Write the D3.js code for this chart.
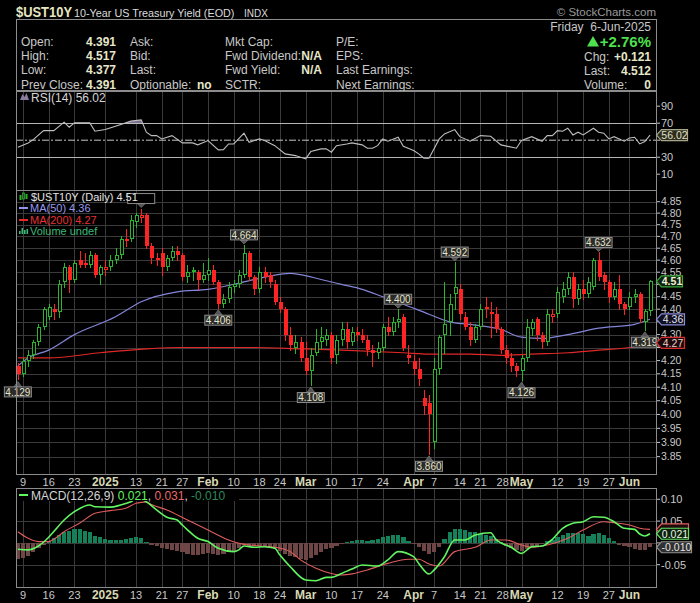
<!DOCTYPE html>
<html><head><meta charset="utf-8">
<script src="https://cdn.jsdelivr.net/npm/d3@7"></script>
<style>html,body{margin:0;padding:0;background:#000;}svg{display:block;}text{font-family:"Liberation Sans",Arial,sans-serif;}</style>
</head><body><svg id="c" width="700" height="603"></svg>
<script>
// ---------------- DATA ----------------
const dates = ["2024-12-06","2024-12-09","2024-12-10","2024-12-11","2024-12-12","2024-12-13","2024-12-16","2024-12-17","2024-12-18","2024-12-19","2024-12-20","2024-12-23","2024-12-24","2024-12-26","2024-12-27","2024-12-30","2024-12-31","2025-01-02","2025-01-03","2025-01-06","2025-01-07","2025-01-08","2025-01-10","2025-01-13","2025-01-14","2025-01-15","2025-01-16","2025-01-17","2025-01-21","2025-01-22","2025-01-23","2025-01-24","2025-01-27","2025-01-28","2025-01-29","2025-01-30","2025-01-31","2025-02-03","2025-02-04","2025-02-05","2025-02-06","2025-02-07","2025-02-10","2025-02-11","2025-02-12","2025-02-13","2025-02-14","2025-02-18","2025-02-19","2025-02-20","2025-02-21","2025-02-24","2025-02-25","2025-02-26","2025-02-27","2025-02-28","2025-03-03","2025-03-04","2025-03-05","2025-03-06","2025-03-07","2025-03-10","2025-03-11","2025-03-12","2025-03-13","2025-03-14","2025-03-17","2025-03-18","2025-03-19","2025-03-20","2025-03-21","2025-03-24","2025-03-25","2025-03-26","2025-03-27","2025-03-28","2025-03-31","2025-04-01","2025-04-02","2025-04-03","2025-04-04","2025-04-07","2025-04-08","2025-04-09","2025-04-10","2025-04-11","2025-04-14","2025-04-15","2025-04-16","2025-04-17","2025-04-21","2025-04-22","2025-04-23","2025-04-24","2025-04-25","2025-04-28","2025-04-29","2025-04-30","2025-05-01","2025-05-02","2025-05-05","2025-05-06","2025-05-07","2025-05-08","2025-05-09","2025-05-12","2025-05-13","2025-05-14","2025-05-15","2025-05-16","2025-05-19","2025-05-20","2025-05-21","2025-05-22","2025-05-23","2025-05-27","2025-05-28","2025-05-29","2025-05-30","2025-06-02","2025-06-03","2025-06-04","2025-06-05","2025-06-06"];

const opens = [4.18,4.15,4.20,4.22,4.27,4.33,4.37,4.40,4.39,4.51,4.57,4.52,4.60,4.59,4.58,4.62,4.54,4.56,4.57,4.60,4.62,4.68,4.69,4.76,4.78,4.79,4.66,4.60,4.63,4.57,4.61,4.64,4.62,4.53,4.55,4.55,4.52,4.54,4.56,4.51,4.42,4.44,4.49,4.50,4.54,4.63,4.53,4.48,4.55,4.54,4.50,4.43,4.40,4.30,4.25,4.27,4.21,4.16,4.23,4.27,4.28,4.30,4.22,4.28,4.32,4.27,4.31,4.30,4.28,4.24,4.23,4.25,4.33,4.31,4.35,4.37,4.22,4.20,4.17,4.06,4.04,3.90,4.17,4.30,4.35,4.46,4.48,4.37,4.33,4.28,4.33,4.41,4.39,4.38,4.32,4.24,4.21,4.18,4.16,4.21,4.32,4.36,4.30,4.27,4.37,4.38,4.45,4.48,4.53,4.44,4.48,4.46,4.49,4.60,4.54,4.51,4.45,4.48,4.42,4.41,4.45,4.46,4.35,4.391];
const highs = [4.19,4.21,4.24,4.28,4.34,4.41,4.42,4.42,4.52,4.59,4.58,4.60,4.64,4.63,4.64,4.63,4.58,4.60,4.62,4.65,4.70,4.73,4.79,4.80,4.82,4.80,4.67,4.63,4.65,4.62,4.66,4.66,4.63,4.58,4.57,4.56,4.59,4.61,4.58,4.52,4.46,4.51,4.52,4.56,4.664,4.64,4.54,4.57,4.57,4.55,4.52,4.45,4.41,4.33,4.30,4.29,4.27,4.25,4.32,4.33,4.32,4.31,4.30,4.35,4.35,4.33,4.33,4.32,4.30,4.26,4.27,4.34,4.37,4.37,4.400,4.38,4.26,4.22,4.21,4.09,4.07,4.21,4.30,4.51,4.46,4.592,4.50,4.39,4.35,4.34,4.42,4.45,4.43,4.41,4.33,4.26,4.23,4.19,4.22,4.36,4.36,4.37,4.31,4.40,4.40,4.49,4.51,4.55,4.55,4.50,4.52,4.53,4.61,4.632,4.55,4.52,4.51,4.54,4.43,4.47,4.48,4.47,4.40,4.517];
const lows = [4.129,4.14,4.18,4.21,4.26,4.32,4.36,4.36,4.37,4.49,4.47,4.51,4.57,4.57,4.57,4.53,4.50,4.54,4.56,4.59,4.61,4.66,4.68,4.74,4.76,4.65,4.59,4.58,4.54,4.56,4.60,4.60,4.52,4.51,4.52,4.48,4.51,4.52,4.50,4.406,4.41,4.43,4.47,4.49,4.53,4.52,4.46,4.47,4.51,4.49,4.42,4.39,4.28,4.24,4.23,4.20,4.15,4.108,4.22,4.25,4.26,4.19,4.19,4.26,4.25,4.26,4.28,4.27,4.22,4.18,4.21,4.24,4.30,4.30,4.33,4.24,4.19,4.15,4.11,4.00,3.860,3.88,4.15,4.23,4.30,4.40,4.36,4.32,4.26,4.27,4.32,4.37,4.29,4.31,4.23,4.19,4.16,4.14,4.126,4.20,4.30,4.28,4.25,4.26,4.35,4.37,4.43,4.46,4.41,4.42,4.44,4.45,4.48,4.52,4.48,4.43,4.44,4.40,4.38,4.40,4.43,4.35,4.319,4.377];
const closes = [4.15,4.20,4.22,4.27,4.33,4.40,4.41,4.39,4.50,4.57,4.52,4.59,4.58,4.58,4.62,4.54,4.57,4.57,4.60,4.62,4.69,4.69,4.77,4.79,4.79,4.66,4.61,4.61,4.57,4.61,4.64,4.62,4.53,4.55,4.56,4.52,4.54,4.56,4.51,4.42,4.44,4.49,4.50,4.54,4.63,4.53,4.48,4.55,4.53,4.51,4.43,4.40,4.30,4.26,4.27,4.21,4.16,4.22,4.27,4.29,4.30,4.21,4.28,4.32,4.27,4.31,4.30,4.28,4.24,4.23,4.25,4.33,4.31,4.35,4.36,4.25,4.21,4.17,4.13,4.03,4.00,4.17,4.29,4.34,4.42,4.49,4.38,4.33,4.28,4.33,4.40,4.40,4.38,4.32,4.24,4.21,4.18,4.16,4.21,4.33,4.35,4.30,4.27,4.38,4.38,4.47,4.48,4.53,4.44,4.48,4.46,4.51,4.60,4.53,4.51,4.45,4.48,4.42,4.40,4.45,4.46,4.36,4.391,4.512];

const ma50Dates = ["2024-12-06","2024-12-10","2024-12-16","2024-12-23","2025-01-06","2025-01-14","2025-01-24","2025-02-03","2025-02-12","2025-02-19","2025-02-26","2025-02-28","2025-03-06","2025-03-12","2025-03-18","2025-03-24","2025-03-28","2025-04-04","2025-04-10","2025-04-16","2025-04-25","2025-05-01","2025-05-07","2025-05-14","2025-05-22","2025-06-03","2025-06-06"];
const ma50Values = [4.18,4.21,4.24,4.30,4.37,4.43,4.47,4.48,4.51,4.53,4.545,4.54,4.52,4.50,4.48,4.45,4.42,4.38,4.35,4.34,4.32,4.29,4.285,4.30,4.325,4.34,4.36];
const ma200Dates = ["2024-12-06","2024-12-16","2024-12-31","2025-01-15","2025-01-27","2025-02-14","2025-02-28","2025-03-12","2025-03-28","2025-04-04","2025-04-16","2025-04-25","2025-05-05","2025-05-14","2025-05-22","2025-06-02","2025-06-06"];
const ma200Values = [4.21,4.21,4.23,4.245,4.25,4.25,4.245,4.24,4.23,4.225,4.225,4.22,4.225,4.23,4.24,4.25,4.265];

const rsiDates = ["2024-12-06","2024-12-10","2024-12-11","2024-12-13","2024-12-17","2024-12-19","2024-12-20","2024-12-23","2024-12-27","2024-12-30","2025-01-02","2025-01-06","2025-01-10","2025-01-14","2025-01-15","2025-01-16","2025-01-17","2025-01-21","2025-01-23","2025-01-27","2025-01-29","2025-01-30","2025-02-03","2025-02-05","2025-02-06","2025-02-07","2025-02-10","2025-02-12","2025-02-13","2025-02-18","2025-02-19","2025-02-21","2025-02-25","2025-02-27","2025-03-03","2025-03-04","2025-03-06","2025-03-07","2025-03-10","2025-03-11","2025-03-13","2025-03-14","2025-03-18","2025-03-19","2025-03-20","2025-03-21","2025-03-24","2025-03-25","2025-03-27","2025-03-28","2025-04-01","2025-04-02","2025-04-03","2025-04-04","2025-04-08","2025-04-09","2025-04-11","2025-04-14","2025-04-16","2025-04-21","2025-04-23","2025-04-25","2025-04-30","2025-05-01","2025-05-05","2025-05-07","2025-05-08","2025-05-09","2025-05-12","2025-05-13","2025-05-14","2025-05-15","2025-05-16","2025-05-19","2025-05-21","2025-05-22","2025-05-23","2025-05-27","2025-05-28","2025-05-30","2025-06-02","2025-06-03","2025-06-04","2025-06-05","2025-06-06"];
const rsiValues = [41.8,46.8,50.7,61.3,61.3,71.2,65.3,70.4,70.4,60.6,62.5,66.5,72.4,73.9,59.4,55.4,55.4,51.5,55.4,46.8,46.8,44.5,49.6,38.6,38.8,45.6,45.6,58.2,47.6,51.5,49.6,43.6,33.9,31.9,28.0,36.6,39.8,39.8,35.9,43.6,45.6,46.8,44.5,40.6,40.6,43.6,51.5,48.8,53.5,42.9,37.8,33.9,28.8,28.8,51.5,57.4,62.5,54.2,48.8,55.4,54.6,44.5,40.6,49.6,54.2,48.8,55.4,55.4,61.3,60.6,64.1,56.2,59.4,56.2,64.1,59.4,58.2,51.5,54.2,48.8,52.7,53.5,45.6,48.4,56.02];

const macdDates = ["2024-12-06","2024-12-10","2024-12-12","2024-12-16","2024-12-17","2024-12-19","2024-12-23","2024-12-27","2024-12-30","2025-01-03","2025-01-07","2025-01-10","2025-01-13","2025-01-14","2025-01-15","2025-01-17","2025-01-22","2025-01-24","2025-01-27","2025-01-28","2025-01-30","2025-02-03","2025-02-05","2025-02-10","2025-02-11","2025-02-12","2025-02-14","2025-02-19","2025-02-21","2025-02-24","2025-02-26","2025-03-03","2025-03-05","2025-03-07","2025-03-10","2025-03-12","2025-03-14","2025-03-18","2025-03-21","2025-03-25","2025-03-27","2025-04-01","2025-04-02","2025-04-04","2025-04-07","2025-04-09","2025-04-11","2025-04-15","2025-04-17","2025-04-23","2025-04-24","2025-04-29","2025-05-01","2025-05-05","2025-05-07","2025-05-09","2025-05-13","2025-05-15","2025-05-19","2025-05-21","2025-05-23","2025-05-28","2025-05-30","2025-06-03","2025-06-04","2025-06-05","2025-06-06"];
const macdValues = [-0.0147,-0.016,-0.007,0.013,0.026,0.0525,0.0716,0.087,0.083,0.082,0.087,0.0945,0.100,0.100,0.094,0.0755,0.0587,0.0525,0.041,0.030,0.0106,0.003,-0.0124,-0.020,-0.016,-0.007,-0.010,-0.0087,-0.0124,-0.028,-0.0546,-0.085,-0.0867,-0.079,-0.079,-0.070,-0.060,-0.0507,-0.053,-0.039,-0.020,-0.0316,-0.047,-0.0713,-0.062,-0.0316,0.0067,0.0067,0.018,0.0234,0.0083,-0.010,-0.024,-0.0087,-0.007,0.0083,0.0335,0.045,0.0486,0.060,0.0587,0.0486,0.0335,0.031,0.0204,0.0158,0.021];
const signalDates = ["2024-12-06","2024-12-10","2024-12-12","2024-12-16","2024-12-17","2024-12-19","2024-12-24","2024-12-30","2025-01-03","2025-01-08","2025-01-13","2025-01-14","2025-01-15","2025-01-16","2025-01-22","2025-01-28","2025-02-03","2025-02-07","2025-02-11","2025-02-18","2025-02-21","2025-02-26","2025-02-28","2025-03-05","2025-03-10","2025-03-12","2025-03-14","2025-03-19","2025-03-25","2025-03-31","2025-04-02","2025-04-04","2025-04-08","2025-04-11","2025-04-17","2025-04-23","2025-04-28","2025-05-01","2025-05-05","2025-05-08","2025-05-14","2025-05-19","2025-05-23","2025-05-28","2025-06-02","2025-06-04","2025-06-06"];
const signalValues = [0.0257,0.0106,0.003,0.003,0.0083,0.0257,0.045,0.068,0.074,0.0794,0.0908,0.093,0.094,0.088,0.0755,0.0525,0.0296,0.0067,-0.001,-0.007,-0.010,-0.020,-0.039,-0.058,-0.070,-0.0736,-0.071,-0.062,-0.047,-0.0376,-0.0376,-0.0484,-0.053,-0.020,-0.010,0.0067,0.0067,-0.0048,-0.010,-0.0048,0.0106,0.0296,0.0486,0.0463,0.041,0.0335,0.031];
const histValues = [-0.037,-0.034,-0.030,-0.022,-0.012,-0.004,0.004,0.012,0.018,0.024,0.028,0.031,0.031,0.028,0.024,0.016,0.013,0.010,0.006,0.006,0.007,0.009,0.011,0.014,0.012,0.002,-0.004,-0.008,-0.012,-0.014,-0.016,-0.018,-0.022,-0.026,-0.028,-0.028,-0.026,-0.024,-0.026,-0.028,-0.026,-0.022,-0.018,-0.012,-0.005,-0.006,-0.008,-0.006,-0.008,-0.010,-0.012,-0.018,-0.026,-0.031,-0.033,-0.036,-0.039,-0.035,-0.028,-0.020,-0.014,-0.012,-0.008,-0.003,0.002,0.005,0.006,0.006,0.005,0.006,0.008,0.013,0.015,0.017,0.018,0.014,0.005,-0.002,-0.010,-0.018,-0.026,-0.020,-0.010,0.008,0.025,0.033,0.032,0.029,0.026,0.024,0.020,0.018,0.016,0.008,0.002,-0.006,-0.012,-0.016,-0.019,-0.013,-0.008,-0.006,-0.003,0.004,0.006,0.014,0.019,0.023,0.022,0.022,0.020,0.016,0.020,0.022,0.019,0.012,0.004,-0.004,-0.008,-0.010,-0.013,-0.016,-0.017,-0.010];

const markerDates = ["2024-12-06","2025-01-14","2025-02-05","2025-02-12","2025-03-04","2025-03-27","2025-04-04","2025-04-11","2025-05-01","2025-05-22","2025-06-05"];
const markerValues = [4.129,4.82,4.406,4.664,4.108,4.400,3.860,4.592,4.126,4.632,4.319];
const markerTypes = ["low","high","low","high","low","high","low","high","low","high","low"];

const tickDates = ["2024-12-09","2024-12-16","2024-12-23","2025-01-02","2025-01-13","2025-01-21","2025-01-27","2025-02-03","2025-02-10","2025-02-18","2025-02-24","2025-03-03","2025-03-10","2025-03-17","2025-03-24","2025-04-01","2025-04-07","2025-04-14","2025-04-21","2025-04-28","2025-05-01","2025-05-12","2025-05-19","2025-05-27","2025-06-02"];
const tickLabels = ["9","16","23","2025","13","21","27","Feb","10","18","24","Mar","10","17","24","Apr","7","14","21","28","May","12","19","27","Jun"];
const priceTicks = [4.85,4.80,4.75,4.70,4.65,4.60,4.55,4.50,4.45,4.40,4.35,4.30,4.25,4.20,4.15,4.10,4.05,4.00,3.95,3.90,3.85];
const rsiTicks = [90,70,50,30,10];
const macdTicks = [0.10,0.05,0.00,-0.05];

const headerLabels1 = ["Open:","High:","Low:","Prev Close:"];
const headerValues1 = ["4.391","4.517","4.377","4.391"];
const headerLabels2 = ["Ask:","Bid:","Last:","Optionable:"];
const headerLabels3 = ["Mkt Cap:","Fwd Dividend:","Fwd Yield:","SCTR:"];
const headerLabels4 = ["P/E:","EPS:","Last Earnings:","Next Earnings:"];

// ---------------- DRAW ----------------
const svg = d3.select("#c");
const L = 16, R = 656;
const RSI = [91,190], MAIN = [190,474], MACD = [488,587];
const GRID = "#3a3a3a", BORDER = "#8c8c8c", AX = "#c8c8c8";
const UP = "#2db42d", DN = "#ff2424";

const x = d3.scaleLinear().domain([0, dates.length - 1]).range([17.86, 650]);
const xd = d => x(dates.indexOf(d));
const y = d3.scaleLog().domain([3.790, 4.9017]).range([MAIN[1], MAIN[0]]);
const yr = d3.scaleLinear().domain([0,100]).range([182.7, 97.7]);
const ym = d3.scaleLinear().domain([-0.05,0.10]).range([564.7, 499.3]);

const priceTags = [4.512, 4.36, 4.268];
const rsiTags = [56.02];
const macdTags = [0.031, 0.021, -0.010];
const covered = (yy, list, sc) => list.some(v => Math.abs(sc(v) - yy) < 7.5);

const defs = svg.append("defs");
function clip(id, x0, y0, x1, y1){
  defs.append("clipPath").attr("id", id).append("rect").attr("x",x0).attr("y",y0).attr("width",x1-x0).attr("height",y1-y0);
}
clip("cRsi", L, RSI[0], R, RSI[1]);
clip("cMain", L, MAIN[0], R, MAIN[1]);
clip("cMacd", L, MACD[0], R, MACD[1]);
clip("cOver", L, RSI[0], R, yr(70));
clip("cUnder", L, yr(30), R, RSI[1]);

function T(g, x0, y0, s, o = {}){
  const t = g.append("text").attr("x", x0).attr("y", y0).text(s)
    .attr("font-size", o.size || 12).attr("fill", o.fill || AX)
    .attr("text-anchor", o.anchor || "start");
  if (o.bold) t.attr("font-weight", "bold");
  return t;
}

// ---- header ----
const hdr = svg.append("g");
T(hdr, 16, 17, "$UST10Y", {size:14, bold:true, fill:"#e6e6c0"}).attr("textLength",56).attr("lengthAdjust","spacingAndGlyphs");
T(hdr, 74, 17, "10-Year US Treasury Yield (EOD)", {size:10.8, fill:"#dcdcdc"});
T(hdr, 244, 17, "INDX", {size:10, fill:"#dcdcdc"});
T(hdr, 656, 16, "\u00A9 StockCharts.com", {size:11.5, fill:"#9a9a9a", anchor:"end"});
hdr.append("rect").attr("x",16.5).attr("y",19.5).attr("width",640).attr("height",71).attr("fill","none").attr("stroke",BORDER);
const rowsY = [46, 60, 74, 88.5];
rowsY.forEach((yy,i)=>{
  T(hdr, 21, yy, headerLabels1[i]);
  T(hdr, 116, yy, headerValues1[i], {bold:true, anchor:"end", fill:"#e6e6c8"});
  T(hdr, 130, yy, headerLabels2[i]);
  T(hdr, 225, yy, headerLabels3[i]);
  T(hdr, 336, yy, headerLabels4[i]);
});
T(hdr, 197, rowsY[3], "no", {bold:true, fill:"#e6e6c8"});
T(hdr, 322, rowsY[1], "N/A", {bold:true, anchor:"end", fill:"#e6e6c8"});
T(hdr, 322, rowsY[2], "N/A", {bold:true, anchor:"end", fill:"#e6e6c8"});
T(hdr, 651, 31, "Friday  6-Jun-2025", {anchor:"end"}).style("white-space","pre");
hdr.append("path").attr("d","M587,46.5L593,36L599,46.5Z").attr("fill","#4ee04e");
T(hdr, 651, 47, "+2.76%", {size:15, bold:true, anchor:"end", fill:"#4ee04e"});
T(hdr, 584, 60.5, "Chg:");
T(hdr, 651, 60.5, "+0.121", {bold:true, anchor:"end", fill:"#e6e6c8"});
T(hdr, 584, 74.5, "Last:");
T(hdr, 651, 74.5, "4.512", {bold:true, anchor:"end", fill:"#e6e6c8"});
T(hdr, 584, 88.5, "Volume:");
T(hdr, 651, 88.5, "0", {bold:true, anchor:"end", fill:"#e6e6c8"});

// ---- vertical grid ----
const vg = svg.append("g").attr("shape-rendering","crispEdges");
[RSI, MAIN, MACD].forEach(p=>{
  tickDates.forEach(d=>{
    const xx = Math.round(xd(d)) + 0.5;
    vg.append("line").attr("x1",xx).attr("x2",xx).attr("y1",p[0]).attr("y2",p[1]).attr("stroke",GRID);
  });
});

// ---- RSI panel ----
const rg = svg.append("g");
[70,30].forEach(v=> rg.append("line").attr("x1",L).attr("x2",R).attr("y1",yr(v)).attr("y2",yr(v)).attr("stroke","#c4c4c4").attr("shape-rendering","crispEdges"));
rg.append("line").attr("x1",L).attr("x2",R).attr("y1",yr(50)).attr("y2",yr(50)).attr("stroke","#c4c4c4").attr("stroke-dasharray","7,2,2,2");
const rsiPts = rsiDates.map((d,i)=>[xd(d), rsiValues[i]]);
rg.append("path").attr("clip-path","url(#cOver)")
  .attr("d", d3.area().x(p=>p[0]).y0(yr(70)).y1(p=>yr(p[1]))(rsiPts)).attr("fill","#7a6a8c");
rg.append("path").attr("clip-path","url(#cUnder)")
  .attr("d", d3.area().x(p=>p[0]).y0(yr(30)).y1(p=>yr(p[1]))(rsiPts)).attr("fill","#7a6a8c");
rg.append("path").attr("clip-path","url(#cRsi)")
  .attr("d", d3.line().x(p=>p[0]).y(p=>yr(p[1]))(rsiPts)).attr("fill","none").attr("stroke","#bdbdbd").attr("stroke-width",1.1);
rg.append("path").attr("d","M20,100L22.5,94L24.5,97L26.5,93L29,100Z").attr("fill","#8a7a9c");
T(rg, 31, 102, "RSI(14) 56.02", {size:12, fill:"#d4d4d4"});
rsiTicks.forEach(v=>{
  rg.append("line").attr("x1",R).attr("x2",R+4).attr("y1",yr(v)).attr("y2",yr(v)).attr("stroke",AX);
  if (!covered(yr(v), rsiTags, yr)) T(rg, 661, yr(v)+4, String(v), {size:11});
});

// ---- main panel ----
const mg = svg.append("g");
priceTicks.forEach(v=>{
  mg.append("line").attr("x1",L).attr("x2",R).attr("y1",Math.round(y(v))+0.5).attr("y2",Math.round(y(v))+0.5).attr("stroke",GRID);
});
const maLine = d3.line().curve(d3.curveMonotoneX).x(p=>p[0]).y(p=>y(p[1]));
mg.append("path").attr("clip-path","url(#cMain)")
  .attr("d", maLine(ma200Dates.map((d,i)=>[xd(d), ma200Values[i]]))).attr("fill","none").attr("stroke","#e02828").attr("stroke-width",1.2);
mg.append("path").attr("clip-path","url(#cMain)")
  .attr("d", maLine(ma50Dates.map((d,i)=>[xd(d), ma50Values[i]]))).attr("fill","none").attr("stroke","#8484d8").attr("stroke-width",1.2);

const cg = mg.append("g").attr("clip-path","url(#cMain)").attr("shape-rendering","crispEdges");
dates.forEach((d,i)=>{
  const o = opens[i], h = highs[i], l = lows[i], c = closes[i];
  const prev = i > 0 ? closes[i-1] : o;
  const col = c > prev ? UP : DN;
  const px = Math.round(x(i));
  cg.append("line").attr("x1",px+0.5).attr("x2",px+0.5).attr("y1",Math.round(y(h))).attr("y2",Math.round(y(l))+1).attr("stroke",col);
  const top = Math.round(y(Math.max(o,c))), bot = Math.round(y(Math.min(o,c)));
  if (c < o) {
    cg.append("rect").attr("x",px-1.5).attr("y",top).attr("width",4).attr("height",Math.max(bot-top,1)).attr("fill",col);
  } else {
    cg.append("rect").attr("x",px-1).attr("y",top+0.5).attr("width",3).attr("height",Math.max(bot-top-1,1)).attr("fill","#000").attr("stroke",col);
  }
});

markerDates.forEach((d,i)=>{
  const v = markerValues[i], cx = xd(d), yy = y(v);
  const s = v.toFixed(3), w = 27;
  let by, tri;
  if (markerTypes[i] === "high") {
    by = yy - 15;
    tri = `M${cx},${yy-1}L${cx-4},${yy-5}L${cx+4},${yy-5}Z`;
  } else {
    by = yy + 7.5;
    tri = `M${cx},${yy+2}L${cx-4},${yy+7.5}L${cx+4},${yy+7.5}Z`;
  }
  const underLegend = by < 204 && cx < 170;
  mg.append("path").attr("d",tri).attr("fill","#555").attr("stroke","#888").attr("stroke-width",0.6);
  mg.append("rect").attr("x",cx-w/2).attr("y",by).attr("width",w).attr("height",10)
    .attr("fill", underLegend ? "#000" : "#2b2b2b").attr("stroke","#8c8c8c");
  if (!underLegend) T(mg, cx, by+8.7, s, {size:10, anchor:"middle", fill:"#e4e4c8"});
});

// legend
const lg = svg.append("g");
lg.append("rect").attr("x",19.5).attr("y",195).attr("width",2).attr("height",5).attr("fill",UP);
lg.append("rect").attr("x",22.5).attr("y",193).attr("width",2).attr("height",6).attr("fill","none").attr("stroke",UP).attr("stroke-width",0.8);
lg.append("rect").attr("x",25.5).attr("y",194).attr("width",2).attr("height",5).attr("fill",UP);
T(lg, 31, 201, "$UST10Y (Daily) 4.51", {size:11, fill:"#e4e4e4"});
lg.append("line").attr("x1",19).attr("x2",28).attr("y1",208).attr("y2",208).attr("stroke","#9494e8").attr("stroke-width",2);
T(lg, 30, 211.5, "MA(50) 4.36", {size:11, fill:"#9898ec"});
lg.append("line").attr("x1",19).attr("x2",28).attr("y1",220).attr("y2",220).attr("stroke","#e82828").attr("stroke-width",2);
T(lg, 30, 223.5, "MA(200) 4.27", {size:11, fill:"#e83030"});
[[19,3],[21.5,6],[24,4],[26.5,5]].forEach(b=> lg.append("rect").attr("x",b[0]).attr("y",234-b[1]).attr("width",1.6).attr("height",b[1]).attr("fill","#3cb878"));
T(lg, 30, 234.5, "Volume undef", {size:11, fill:"#3cb878"});

// price axis
priceTicks.forEach(v=>{
  mg.append("line").attr("x1",R).attr("x2",R+4).attr("y1",y(v)).attr("y2",y(v)).attr("stroke",AX);
  if (!covered(y(v), priceTags, y)) T(mg, 661, y(v)+3.5, v.toFixed(2), {size:10.5});
});

// ---- MACD panel ----
const hg = svg.append("g");
macdTicks.forEach(v=>{
  hg.append("line").attr("x1",L).attr("x2",R).attr("y1",Math.round(ym(v))+0.5).attr("y2",Math.round(ym(v))+0.5).attr("stroke",GRID);
});
const bg = hg.append("g").attr("clip-path","url(#cMacd)").attr("shape-rendering","crispEdges");
histValues.forEach((v,i)=>{
  const y0 = ym(0), y1 = ym(v);
  bg.append("rect").attr("x",x(i)-2).attr("width",4.2)
    .attr("y",Math.min(y0,y1)).attr("height",Math.max(Math.abs(y1-y0),0.8))
    .attr("fill", v >= 0 ? "#16805a" : "#6e4646");
});
const ml = d3.line().curve(d3.curveMonotoneX).x(p=>p[0]).y(p=>ym(p[1]));
hg.append("path").attr("clip-path","url(#cMacd)").attr("d", ml(signalDates.map((d,i)=>[xd(d), signalValues[i]])))
  .attr("fill","none").attr("stroke","#e05c5c").attr("stroke-width",1.1);
hg.append("path").attr("clip-path","url(#cMacd)").attr("d", ml(macdDates.map((d,i)=>[xd(d), macdValues[i]])))
  .attr("fill","none").attr("stroke","#62f562").attr("stroke-width",1.6);
hg.append("rect").attr("x",17).attr("y",489).attr("width",222).attr("height",12).attr("fill","#000");
hg.append("line").attr("x1",19).attr("x2",28).attr("y1",495).attr("y2",495).attr("stroke","#62f562").attr("stroke-width",2);
const mt = T(hg, 31, 499.5, "", {size:12, fill:"#d4d4d4"});
mt.append("tspan").text("MACD(12,26,9) ");
mt.append("tspan").text("0.021").attr("fill","#62f562");
mt.append("tspan").text(", ");
mt.append("tspan").text("0.031").attr("fill","#e86a6a");
mt.append("tspan").text(", ");
mt.append("tspan").text("-0.010").attr("fill","#2e8a5a");
macdTicks.forEach(v=>{
  hg.append("line").attr("x1",R).attr("x2",R+4).attr("y1",ym(v)).attr("y2",ym(v)).attr("stroke",AX);
  if (!covered(ym(v), macdTags, ym)) T(hg, 661, ym(v)+4, v.toFixed(2), {size:11});
});

// ---- panel borders ----
[RSI, MAIN, MACD].forEach(p=>{
  svg.append("rect").attr("x",L+0.5).attr("y",p[0]+0.5).attr("width",R-L).attr("height",p[1]-p[0])
    .attr("fill","none").attr("stroke",BORDER).attr("shape-rendering","crispEdges");
});

// ---- x axis labels ----
[481+4.5, 594+4.5].forEach(yy=>{
  const nodes = tickDates.map((d,i)=>{
    const lab = tickLabels[i];
    const bold = isNaN(+lab) || lab.length === 4;
    return T(svg, xd(d), yy, lab, {size: bold ? 12 : 11, bold, anchor:"middle", fill: bold ? "#d8d8b4" : AX});
  });
  for (let i = nodes.length - 2; i >= 0; i--) {
    const a = nodes[i].node().getBBox(), b = nodes[i+1].node().getBBox();
    const gap = b.x - (a.x + a.width);
    if (gap < 1) nodes[i].attr("x", +nodes[i].attr("x") - (1 - gap));
  }
});

// ---- right-axis value tags ----
function tag(yc, s, stroke, fill, tcol, bold, w, showText = true){
  const g = svg.append("g");
  g.append("path").attr("d",`M${R+0.5},${yc}L${R+5.5},${yc-5.5}L${R+5.5+w},${yc-5.5}L${R+5.5+w},${yc+5.5}L${R+5.5},${yc+5.5}Z`)
    .attr("fill",fill).attr("stroke",stroke).attr("stroke-width",1.2);
  if (showText) T(g, R+5.5+w/2, yc+4, s, {size:10.5, bold, anchor:"middle", fill:tcol});
}
tag(yr(rsiTags[0]), "56.02", "#a8a888", "#2c2c20", "#e0e0c4", false, 26);
tag(y(priceTags[2]), "4.27", "#d83030", "#1e0808", "#e8d0d0", false, 23);
tag(y(priceTags[1]), "4.36", "#8a8ad8", "#10101e", "#e0e0f4", false, 23);
tag(y(priceTags[0]), "4.51", "#3aa83a", "#0e220e", "#f0f0d8", true, 21);
tag(ym(macdTags[0]), "0.031", "#e06060", "#200a0a", "#f0d0d0", false, 27, false);
tag(ym(macdTags[1]), "0.021", "#60e060", "#0c200c", "#e8f8e8", false, 27);
tag(ym(macdTags[2]), "-0.010", "#909090", "#303030", "#e4e4e4", false, 30);
</script>
</body></html>
